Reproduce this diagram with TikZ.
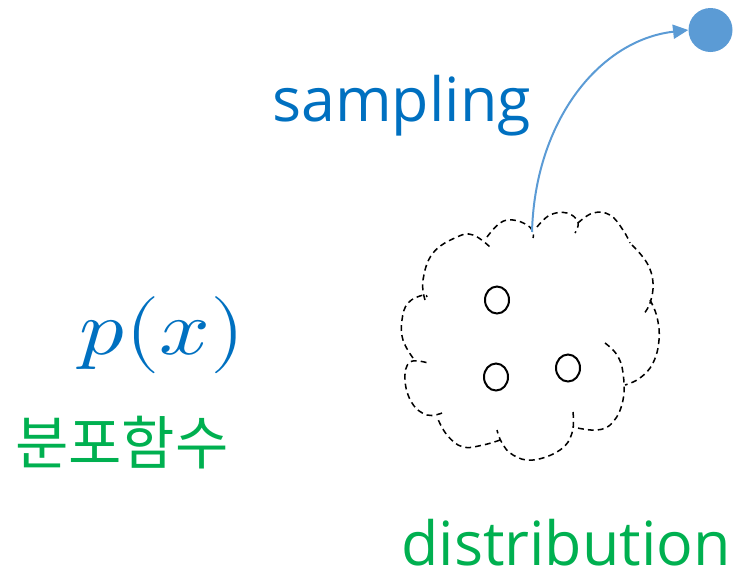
\documentclass[tikz,border=0pt]{standalone}
\usepackage{fontspec}
\usepackage{unicode-math}
\setmainfont{Open Sans}
\setmathfont{Latin Modern Math}
\newfontfamily\kofont{Noto Sans CJK KR}
\usetikzlibrary{arrows.meta}
\definecolor{samplblue}{HTML}{0070C0}
\definecolor{dotblue}{HTML}{5B9BD5}
\definecolor{distgreen}{HTML}{00B050}

\begin{document}
\begin{tikzpicture}[
    x=0.03cm, y=-0.03cm,
    bigtext/.style={inner sep=0pt, anchor=base west},
    cloudline/.style={draw=black, line width=1.3pt, dash pattern=on 5pt off 3.5pt},
    seed/.style={draw=black, line width=1.7pt},
    arrow/.style={-{Triangle[length=13pt, width=12pt]}, line width=1.7pt, draw=dotblue}
]
\useasboundingbox (0,0) rectangle (735,577);

\node[bigtext, text=samplblue, font=\fontsize{52}{62}\selectfont] (sampling) at (272,121) {sampling};
\node[bigtext, text=samplblue, font=\fontsize{66}{80}\selectfont] (density) at (79,354) {\scalebox{1.15}[1]{$p(x)$}};
\node[bigtext, text=distgreen, font=\kofont\fontsize{49.5}{60}\selectfont] (korean) at (15,464) {분포함수};
\node[bigtext, text=distgreen, font=\fontsize{52}{62}\selectfont] (distribution) at (401,565) {distribution};

\node[circle, fill=dotblue, minimum size=1.32cm, inner sep=0pt] (dot) at (710.5,30) {};

\draw[cloudline] plot[smooth, tension=0.7] coordinates {(425,300) (423,280) (433,253) (457,237) (473,235) (490,247)};
\draw[cloudline] plot[smooth, tension=0.7] coordinates {(487,237) (500,223) (513,220) (527,225) (533,232) (533,238)};
\draw[cloudline] plot[smooth, tension=0.7] coordinates {(537,227) (550,215) (567,213) (578,222) (575,233)};
\draw[cloudline] plot[smooth, tension=0.7] coordinates {(578,223) (593,213) (610,215) (623,230) (630,243)};
\draw[cloudline] plot[smooth, tension=0.7] coordinates {(632,245) (647,263) (653,283) (650,303) (643,315)};
\draw[cloudline] plot[smooth, tension=0.7] coordinates {(650,300) (657,317) (659,340) (653,363) (640,378) (625,385)};
\draw[cloudline] plot[smooth, tension=0.7] coordinates {(605,343) (617,355) (623,373) (623,400) (613,422) (597,430) (573,427)};
\draw[cloudline] plot[smooth, tension=0.7] coordinates {(573,412) (572,433) (560,450) (533,460) (513,455) (502,443) (497,430)};
\draw[cloudline] plot[smooth, tension=0.7] coordinates {(500,440) (483,445) (463,447) (447,435) (437,417)};
\draw[cloudline] plot[smooth, tension=0.7] coordinates {(442,413) (427,415) (412,403) (405,380) (410,362) (428,363)};
\draw[cloudline] plot[smooth, tension=0.7] coordinates {(413,358) (403,340) (402,320) (408,303) (423,295) (427,297)};

\draw[seed] (497,300) ellipse [x radius=12, y radius=13.5];
\draw[seed] (496,377) ellipse [x radius=12, y radius=13.5];
\draw[seed] (568,368) ellipse [x radius=12, y radius=13.5];

\coordinate (cloudtop) at (532,232);
\draw[arrow] (cloudtop) .. controls (535,120) and (600,40) .. (dot.west);
\end{tikzpicture}
\end{document}
